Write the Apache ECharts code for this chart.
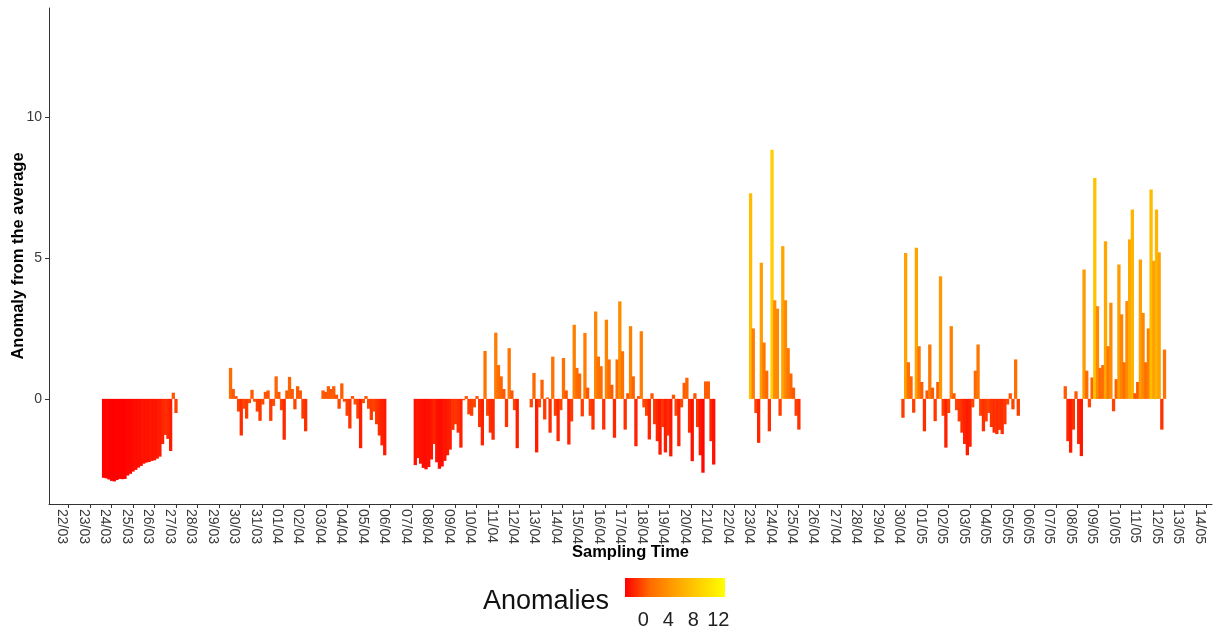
<!DOCTYPE html>
<html>
<head>
<meta charset="utf-8">
<script src="https://cdn.jsdelivr.net/npm/echarts@6/dist/echarts.min.js"></script>
<style>
html,body{margin:0;padding:0;background:#fff;}
#chart{width:1216px;height:634px;}
</style>
</head>
<body>
<div id="chart"></div>
<script>
// ---- tick labels (one per day, 22/03 .. 14/05) ----
const dateLabels = ['22/03','23/03','24/03','25/03','26/03','27/03','28/03','29/03','30/03','31/03',
  '01/04','02/04','03/04','04/04','05/04','06/04','07/04','08/04','09/04','10/04','11/04','12/04',
  '13/04','14/04','15/04','16/04','17/04','18/04','19/04','20/04','21/04','22/04','23/04','24/04',
  '25/04','26/04','27/04','28/04','29/04','30/04','01/05','02/05','03/05','04/05','05/05','06/05',
  '07/05','08/05','09/05','10/05','11/05','12/05','13/05','14/05'];
const yTicks = [0, 5, 10];
const legendTicks = [0, 4, 8, 12];

// ---- anomaly series, 3-hourly samples; start = days after 22/03 00:00 ----
const STEP = 0.125;
const run1Start = 1.5625;
const run1 = [-2.80,-2.82,-2.86,-2.91,-2.93,-2.88,-2.84,-2.85,-2.84,-2.72,-2.66,-2.58,-2.52,-2.44,
  -2.38,-2.30,-2.26,-2.24,-2.20,-2.18,-2.12,-2.05,-1.60,-1.28,-1.42,-1.85,0.22,-0.50];
const run2Start = 7.48;
const run2 = [1.10,0.35,0.10,-0.45,-1.30,-0.35,-0.70,-0.15,0.32,-0.10,-0.45,-0.78,-0.20,0.25,0.30,
  -0.78,-0.25,0.80,0.25,-0.40,-1.45,0.30,0.78,0.35,-0.37,0.45,0.30,-0.70,-1.15];
const run3Start = 11.79;
const run3 = [0.30,0.25,0.45,0.35,0.45,0.15,-0.35,0.55,-0.10,-0.60,-1.05,0.10,-0.20,-0.70,-1.75,
  -0.15,0.10,-0.35,-0.75,-0.45,-0.90,-1.30,-1.65,-2.00];
const run4Start = 16.09;
const run4 = [-2.35,-2.10,-2.30,-2.45,-2.50,-2.42,-2.15,-1.60,-2.25,-2.48,-2.40,-2.20,-2.00,-1.80,
  -1.10,-0.90,-1.20,-1.73,-0.05,0.10,-0.55,-0.60,-0.30,0.10,-1.00,-1.65,1.70,-0.60,-1.20,-1.45,
  2.35,1.20,0.80,0.35,-1.00,1.80,0.30,-0.40,-1.75];
const run5Start = 21.496;
const run5 = [-0.30,0.92,-1.90,-0.30,0.68,-0.73,0.05,-1.20,1.50,-0.60,-1.50,-0.40,1.45,0.30,-1.62,
  -0.80,2.63,1.10,0.90,-0.62,2.34,0.40,-0.60,-1.09,3.10,1.50,1.16,-1.09,2.81,1.40,0.50,-1.38,1.40,
  3.46,1.69,-1.09,0.20,2.58,0.80,-1.68,0.10,2.40,-0.30,-0.60,-1.44,0.20,-0.90,-1.50,-1.98,-1.00,
  -1.90,-1.30,-2.04,0.15,-0.60,-1.68,-0.30,0.57,0.75,-1.20,-2.21,0.20,-1.00,-2.00,-2.62,0.62,0.62,
  -1.50,-2.33];
const run6Start = 31.715;
const run6 = [7.30,2.50,-0.50,-1.56,4.83,2.00,1.00,-1.15,8.84,3.50,3.20,-0.60,5.42,3.50,1.80,0.90,
  0.40,-0.60,-1.09];
const run7Start = 38.816;
const run7 = [-0.67,5.18,1.30,0.80,-0.49,5.36,1.87,0.60,-1.15,0.30,1.93,0.40,-0.79,0.60,4.35,-0.60,
  -1.73,-0.50,2.58,0.20,-0.40,-0.80,-1.20,-1.60,-2.00,-1.70,-0.30,1.00,1.93,-0.60,-1.15,-0.80,
  -0.50,-1.00,-1.20,-1.25,-1.10,-1.25,-0.90,-0.20,0.20,-0.37,1.40,-0.60];
const run8Start = 46.38;
const run8 = [0.45,-1.50,-1.91,-1.09,0.27,-1.60,-2.03,4.59,1.00,-0.30,0.76,7.84,3.29,1.10,1.20,5.59,
  1.87,3.41,-0.44,0.70,4.77,3.00,1.30,3.47,5.66,6.72,0.20,0.60,4.95,3.05,1.30,2.50,7.43,4.90,6.72,
  5.20,-1.09,1.75];

const runs = [[run1Start,run1],[run2Start,run2],[run3Start,run3],[run4Start,run4],
  [run5Start,run5],[run6Start,run6],[run7Start,run7],[run8Start,run8]];
const barData = [];
runs.forEach(([s, vals]) => vals.forEach((v, i) => barData.push([s + (i + 0.5) * STEP, v])));

// ---- colour scale (red -> yellow, Lab-like stops) ----
const scaleMin = -2.93, scaleMax = 13.07;
const rampColors = ['#ff0000', '#ff6b00', '#ffa100', '#ffd100', '#ffff00'];

const X_MIN = -0.918, X_MAX = 53.28, LABEL_SHIFT = 0.30;
const dayTicks = dateLabels.map((_, i) => i);

const chart = echarts.init(document.getElementById('chart'), null, {renderer: 'canvas'});
const axisColor = '#333';
const tickText = '#3a3a3a';

// legend geometry
const lgX = 625, lgY = 578, lgW = 100, lgH = 19;
const legendGraphics = [
  {type: 'text', left: 483, top: 588, style: {text: 'Anomalies', font: '27px "Liberation Sans", Arial, sans-serif', fill: '#111'}},
  {type: 'rect', shape: {x: lgX, y: lgY, width: lgW, height: lgH},
   style: {fill: new echarts.graphic.LinearGradient(0, 0, 1, 0,
     rampColors.map((c, i) => ({offset: i / (rampColors.length - 1), color: c})))}}
].concat(legendTicks.map(t => ({
  type: 'text',
  x: lgX + (t - scaleMin) / (scaleMax - scaleMin) * lgW,
  y: 620,
  style: {text: String(t), font: '20px "Liberation Sans", Arial, sans-serif', fill: '#222',
    align: 'center', verticalAlign: 'middle'}
})));

chart.setOption({
  animation: false,
  backgroundColor: '#fff',
  grid: {left: 49, right: 4, top: 8, bottom: 130, containLabel: false, outerBoundsMode: 'none'},
  xAxis: [{
    type: 'value', min: X_MIN, max: X_MAX,
    name: 'Sampling Time', nameLocation: 'middle', nameGap: 40, nameMoveOverlap: false,
    nameTextStyle: {fontFamily: 'Liberation Sans', fontWeight: 'bold', fontSize: 16.5, color: '#000'},
    splitLine: {show: false},
    axisLine: {show: true, onZero: false, lineStyle: {color: axisColor, width: 1}},
    axisTick: {show: true, length: 4, customValues: dayTicks, lineStyle: {color: axisColor}},
    axisLabel: {show: false}
  }, {
    type: 'value', min: X_MIN + LABEL_SHIFT, max: X_MAX + LABEL_SHIFT, position: 'bottom',
    splitLine: {show: false},
    axisLine: {show: false}, axisTick: {show: false},
    axisLabel: {show: true, rotate: -90, margin: 5, customValues: dayTicks,
      fontFamily: 'Liberation Sans', fontSize: 14, color: tickText,
      formatter: v => dateLabels[Math.round(v)] || ''}
  }],
  yAxis: {
    type: 'value', min: -3.73, max: 13.87,
    name: 'Anomaly from the average', nameLocation: 'middle', nameGap: 22, nameRotate: 90,
    nameMoveOverlap: false,
    nameTextStyle: {fontFamily: 'Liberation Sans', fontWeight: 'bold', fontSize: 16.5, color: '#000'},
    splitLine: {show: false},
    axisLine: {show: true, onZero: false, lineStyle: {color: axisColor, width: 1}},
    axisTick: {show: true, length: 4, customValues: yTicks, lineStyle: {color: axisColor}},
    axisLabel: {customValues: yTicks, margin: 7, fontFamily: 'Liberation Sans', fontSize: 14, color: tickText}
  },
  visualMap: {
    type: 'continuous', show: false, seriesIndex: 0, dimension: 1,
    min: scaleMin, max: scaleMax, inRange: {color: rampColors}
  },
  series: [{
    type: 'bar', xAxisIndex: 0, data: barData, barWidth: 3.3,
    itemStyle: {borderWidth: 0}
  }],
  graphic: legendGraphics
});
</script>
</body>
</html>
